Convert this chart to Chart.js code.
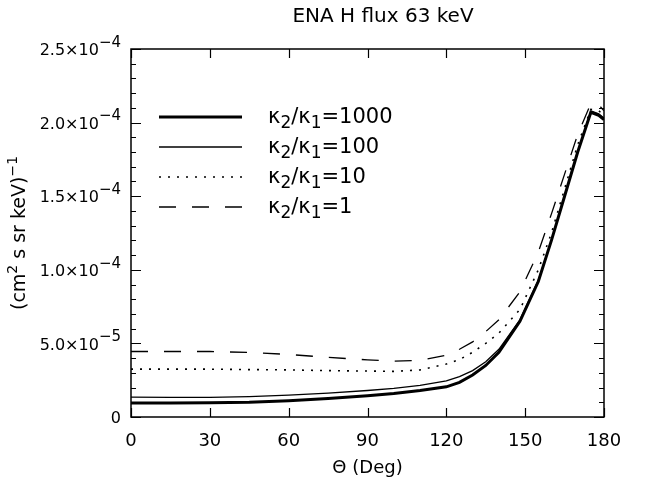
<!DOCTYPE html>
<html>
<head>
<meta charset="utf-8">
<script src="https://cdn.jsdelivr.net/npm/chart.js@4/dist/chart.umd.min.js"></script>
<style>
html, body { margin: 0; padding: 0; background: #fff; }
</style>
</head>
<body>
<canvas id="ena-chart" width="648" height="484"></canvas>
<script>
// angles (deg) where the curves were sampled
const theta = [0, 15, 30, 45, 60, 75, 90, 100, 110, 120, 125, 130, 135, 140, 148, 155, 160, 165, 170, 175, 178, 180]

// flux, (cm^2 s sr keV)^-1, one array per kappa2/kappa1 ratio
const flux_1000 = [9.5e-6, 9.5e-6, 9.6e-6, 1.0e-5, 1.1e-5, 1.25e-5, 1.45e-5, 1.6e-5, 1.8e-5, 2.05e-5, 2.35e-5, 2.85e-5, 3.5e-5, 4.4e-5, 6.5e-5, 9.2e-5, 1.2e-4, 1.5e-4, 1.8e-4, 2.07e-4, 2.05e-4, 2.02e-4]
const flux_100 = [1.35e-5, 1.33e-5, 1.33e-5, 1.38e-5, 1.48e-5, 1.62e-5, 1.8e-5, 1.95e-5, 2.15e-5, 2.45e-5, 2.75e-5, 3.15e-5, 3.75e-5, 4.6e-5, 6.6e-5, 9.3e-5, 1.2e-4, 1.5e-4, 1.8e-4, 2.08e-4, 2.06e-4, 2.03e-4]
const flux_10 = [3.25e-5, 3.25e-5, 3.25e-5, 3.22e-5, 3.2e-5, 3.15e-5, 3.12e-5, 3.1e-5, 3.2e-5, 3.6e-5, 3.9e-5, 4.4e-5, 5.0e-5, 5.7e-5, 7.3e-5, 1.0e-4, 1.25e-4, 1.55e-4, 1.85e-4, 2.09e-4, 2.08e-4, 2.05e-4]
const flux_1 = [4.45e-5, 4.45e-5, 4.45e-5, 4.38e-5, 4.25e-5, 4.05e-5, 3.88e-5, 3.8e-5, 3.85e-5, 4.2e-5, 4.6e-5, 5.1e-5, 5.8e-5, 6.6e-5, 8.5e-5, 1.12e-4, 1.38e-4, 1.65e-4, 1.92e-4, 2.13e-4, 2.12e-4, 2.08e-4]

const ratios = ['1000', '100', '10', '1']

const x_ticks = [0, 30, 60, 90, 120, 150, 180]
const y_ticks = [0, 5e-5, 1e-4, 1.5e-4, 2e-4, 2.5e-4]
const y_tick_text = [['0', ''], ['5.0×10', '−5'], ['1.0×10', '−4'], ['1.5×10', '−4'], ['2.0×10', '−4'], ['2.5×10', '−4']]
const y_minor_step = 1e-5

const FONT = '"DejaVu Sans", sans-serif'


function points(ys) {
    let out = []
    for (let i = 0; i < theta.length; i++) {
        out.push({x: theta[i], y: ys[i]})
    }
    return out
}

let datasets = [
    {label: ratios[0], data: points(flux_1000), borderWidth: 3, borderDash: []},
    {label: ratios[1], data: points(flux_100), borderWidth: 1.3, borderDash: []},
    {label: ratios[2], data: points(flux_10), borderWidth: 1.6, borderDash: [2, 7]},
    {label: ratios[3], data: points(flux_1), borderWidth: 1.3, borderDash: [17, 16]},
]
datasets.forEach(d => {
    d.borderColor = '#000'
    d.backgroundColor = '#000'
    d.pointRadius = 0
    d.tension = 0
    d.fill = false
})


// text with raised / lowered pieces: parts = [[text, size, dy], ...]
function partsWidth(ctx, parts) {
    let w = 0
    parts.forEach(p => {
        ctx.font = p[1] + 'px ' + FONT
        w += ctx.measureText(p[0]).width
    })
    return w
}

function drawParts(ctx, parts, x, y) {
    parts.forEach(p => {
        ctx.font = p[1] + 'px ' + FONT
        ctx.fillText(p[0], x, y + p[2])
        x += ctx.measureText(p[0]).width
    })
}


const idl_frame = {
    id: 'idl_frame',
    afterDatasetsDraw(chart) {
        const ctx = chart.ctx
        const a = chart.chartArea
        const xs = chart.scales.x
        const ys = chart.scales.y

        ctx.save()
        ctx.strokeStyle = '#000'
        ctx.fillStyle = '#000'
        ctx.lineWidth = 1.5
        ctx.strokeRect(a.left, a.top, a.right - a.left, a.bottom - a.top)

        // ticks pointing inwards
        ctx.lineWidth = 1.2
        ctx.beginPath()
        x_ticks.forEach(v => {
            let px = Math.round(xs.getPixelForValue(v)) + 0.5
            ctx.moveTo(px, a.bottom); ctx.lineTo(px, a.bottom - 9)
            ctx.moveTo(px, a.top); ctx.lineTo(px, a.top + 9)
        })
        for (let k = 0; k <= 25; k++) {
            let v = k * y_minor_step
            let len = (k % 5 === 0) ? 10 : 5
            let py = Math.round(ys.getPixelForValue(v)) + 0.5
            ctx.moveTo(a.left, py); ctx.lineTo(a.left + len, py)
            ctx.moveTo(a.right, py); ctx.lineTo(a.right - len, py)
        }
        ctx.stroke()

        // y tick labels with exponents
        ctx.textBaseline = 'middle'
        ctx.textAlign = 'left'
        y_ticks.forEach((v, i) => {
            let py = ys.getPixelForValue(v)
            let parts = [[y_tick_text[i][0], 16, 2]]
            if (y_tick_text[i][1]) parts.push([y_tick_text[i][1], 15, -6])
            let w = partsWidth(ctx, parts)
            drawParts(ctx, parts, a.left - 10 - w, py)
        })

        // y axis title
        ctx.save()
        ctx.translate(20, (a.top + a.bottom) / 2)
        ctx.rotate(-Math.PI / 2)
        let yt = [['(cm', 19, 0], ['2', 14, -7], [' s sr keV)', 19, 0], ['−1', 14, -7]]
        drawParts(ctx, yt, -partsWidth(ctx, yt) / 2, 0)
        ctx.restore()

        // main title
        ctx.textAlign = 'center'
        ctx.font = '20px ' + FONT
        ctx.fillText('ENA H flux 63 keV', 383, 17)

        // legend
        ctx.textAlign = 'left'
        const rows = [117, 147, 177, 207]
        chart.data.datasets.forEach((d, i) => {
            let y = rows[i]
            ctx.save()
            ctx.lineWidth = d.borderWidth
            ctx.setLineDash(d.borderDash)
            ctx.beginPath()
            ctx.moveTo(159, y); ctx.lineTo(242, y)
            ctx.stroke()
            ctx.restore()
            let parts = [['κ', 21, 0], ['2', 17, 6], ['/', 21, 0], ['κ', 21, 0], ['1', 17, 6], ['=', 21, 0], [d.label, 21, 0]]
            drawParts(ctx, parts, 268, y + 1)
        })
        ctx.restore()
    }
}


let ctx = document.getElementById('ena-chart')

let my_chart = new Chart(ctx, {
    type: 'line',
    data: {datasets: datasets},
    plugins: [idl_frame],
    options: {
        responsive: false,
        animation: false,
        devicePixelRatio: 1,
        layout: {padding: {top: 49, right: 44, left: 0, bottom: 0}},
        plugins: {
            legend: {display: false},
            title: {display: false},
            tooltip: {enabled: false}
        },
        scales: {
            x: {
                type: 'linear',
                min: 0,
                max: 180,
                afterBuildTicks: s => { s.ticks = x_ticks.map(v => ({value: v})) },
                afterFit: s => { s.height = 67 },
                grid: {display: false, drawTicks: false},
                border: {display: false},
                ticks: {
                    color: '#000',
                    font: {family: FONT, size: 18},
                    padding: 14,
                    maxRotation: 0
                },
                title: {
                    display: true,
                    text: 'Θ (Deg)',
                    color: '#000',
                    font: {family: FONT, size: 18},
                    padding: {top: 0, bottom: 5}
                }
            },
            y: {
                type: 'linear',
                min: 0,
                max: 2.5e-4,
                afterFit: s => { s.width = 131 },
                grid: {display: false, drawTicks: false},
                border: {display: false},
                ticks: {display: false}
            }
        }
    }
})
</script>
</body>
</html>
